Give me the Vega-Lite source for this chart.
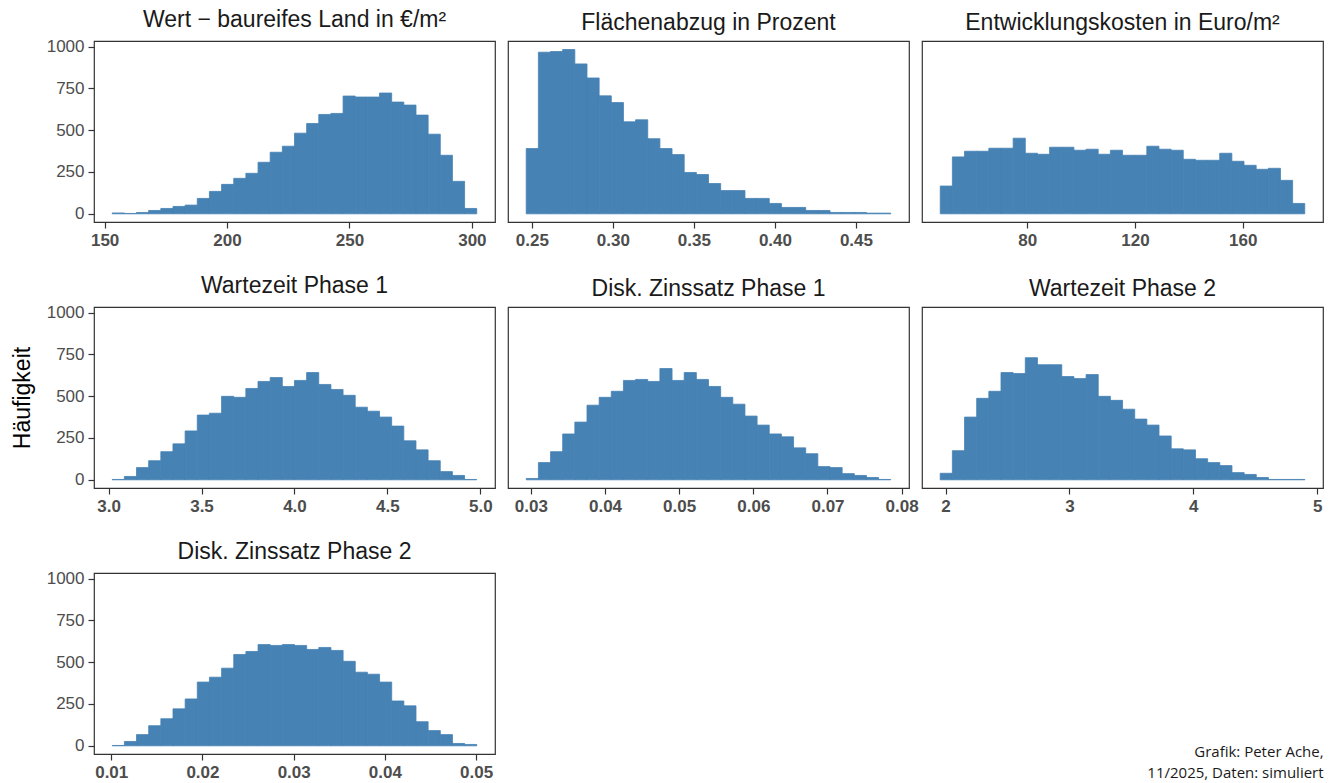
{
  "$schema": "https://vega.github.io/schema/vega-lite/v6.json",
  "background": "white",
  "padding": {"left": 10, "top": 7, "right": 0, "bottom": 0},
  "title": {"text": ["Grafik: Peter Ache,", "11/2025, Daten: simuliert"], "orient": "bottom", "anchor": "end", "font": "Open Sans", "fontSize": 15, "fontWeight": "normal", "color": "#1a1a1a", "lineHeight": 21, "offset": -36},
  "datasets": {
    "p1": [{"a":153.1,"b":158.06,"n":5},{"a":158.06,"b":163.03,"n":2},{"a":163.03,"b":167.99,"n":8},{"a":167.99,"b":172.95,"n":20},{"a":172.95,"b":177.92,"n":32},{"a":177.92,"b":182.88,"n":44},{"a":182.88,"b":187.84,"n":52},{"a":187.84,"b":192.8,"n":92},{"a":192.8,"b":197.77,"n":134},{"a":197.77,"b":202.73,"n":176},{"a":202.73,"b":207.69,"n":212},{"a":207.69,"b":212.66,"n":242},{"a":212.66,"b":217.62,"n":308},{"a":217.62,"b":222.58,"n":368},{"a":222.58,"b":227.55,"n":404},{"a":227.55,"b":232.51,"n":482},{"a":232.51,"b":237.47,"n":540},{"a":237.47,"b":242.43,"n":594},{"a":242.43,"b":247.4,"n":600},{"a":247.4,"b":252.36,"n":704},{"a":252.36,"b":257.32,"n":698},{"a":257.32,"b":262.29,"n":698},{"a":262.29,"b":267.25,"n":722},{"a":267.25,"b":272.21,"n":668},{"a":272.21,"b":277.18,"n":650},{"a":277.18,"b":282.14,"n":590},{"a":282.14,"b":287.1,"n":476},{"a":287.1,"b":292.06,"n":350},{"a":292.06,"b":297.03,"n":194},{"a":297.03,"b":301.99,"n":32}],
    "p2": [{"a":0.2465,"b":0.254,"n":390},{"a":0.254,"b":0.2615,"n":966},{"a":0.2615,"b":0.269,"n":970},{"a":0.269,"b":0.2765,"n":982},{"a":0.2765,"b":0.284,"n":896},{"a":0.284,"b":0.2915,"n":812},{"a":0.2915,"b":0.299,"n":705},{"a":0.299,"b":0.3065,"n":665},{"a":0.3065,"b":0.314,"n":550},{"a":0.314,"b":0.3215,"n":562},{"a":0.3215,"b":0.329,"n":449},{"a":0.329,"b":0.3365,"n":390},{"a":0.3365,"b":0.344,"n":354},{"a":0.344,"b":0.3515,"n":247},{"a":0.3515,"b":0.359,"n":235},{"a":0.359,"b":0.3665,"n":181},{"a":0.3665,"b":0.374,"n":139},{"a":0.374,"b":0.3815,"n":139},{"a":0.3815,"b":0.389,"n":92},{"a":0.389,"b":0.3965,"n":92},{"a":0.3965,"b":0.404,"n":62},{"a":0.404,"b":0.4115,"n":38},{"a":0.4115,"b":0.419,"n":38},{"a":0.419,"b":0.4265,"n":20},{"a":0.4265,"b":0.434,"n":20},{"a":0.434,"b":0.4415,"n":8},{"a":0.4415,"b":0.449,"n":8},{"a":0.449,"b":0.4565,"n":8},{"a":0.4565,"b":0.464,"n":4},{"a":0.464,"b":0.4715,"n":4}],
    "p3": [{"a":47.7,"b":52.21,"n":166},{"a":52.21,"b":56.72,"n":340},{"a":56.72,"b":61.23,"n":374},{"a":61.23,"b":65.74,"n":374},{"a":65.74,"b":70.25,"n":392},{"a":70.25,"b":74.76,"n":392},{"a":74.76,"b":79.27,"n":452},{"a":79.27,"b":83.78,"n":362},{"a":83.78,"b":88.29,"n":356},{"a":88.29,"b":92.8,"n":398},{"a":92.8,"b":97.31,"n":398},{"a":97.31,"b":101.82,"n":380},{"a":101.82,"b":106.33,"n":386},{"a":106.33,"b":110.84,"n":356},{"a":110.84,"b":115.35,"n":380},{"a":115.35,"b":119.86,"n":350},{"a":119.86,"b":124.37,"n":350},{"a":124.37,"b":128.88,"n":404},{"a":128.88,"b":133.39,"n":386},{"a":133.39,"b":137.9,"n":380},{"a":137.9,"b":142.41,"n":326},{"a":142.41,"b":146.92,"n":320},{"a":146.92,"b":151.43,"n":320},{"a":151.43,"b":155.94,"n":362},{"a":155.94,"b":160.45,"n":314},{"a":160.45,"b":164.96,"n":290},{"a":164.96,"b":169.47,"n":266},{"a":169.47,"b":173.98,"n":272},{"a":173.98,"b":178.49,"n":200},{"a":178.49,"b":183.0,"n":62}],
    "p4": [{"a":3.0196,"b":3.085,"n":2},{"a":3.085,"b":3.1503,"n":20},{"a":3.1503,"b":3.2157,"n":73},{"a":3.2157,"b":3.2811,"n":114},{"a":3.2811,"b":3.3464,"n":168},{"a":3.3464,"b":3.4118,"n":215},{"a":3.4118,"b":3.4772,"n":292},{"a":3.4772,"b":3.5425,"n":387},{"a":3.5425,"b":3.6079,"n":398},{"a":3.6079,"b":3.6733,"n":499},{"a":3.6733,"b":3.7386,"n":493},{"a":3.7386,"b":3.804,"n":546},{"a":3.804,"b":3.8694,"n":588},{"a":3.8694,"b":3.9347,"n":611},{"a":3.9347,"b":4.0001,"n":558},{"a":4.0001,"b":4.0655,"n":594},{"a":4.0655,"b":4.1308,"n":641},{"a":4.1308,"b":4.1962,"n":570},{"a":4.1962,"b":4.2616,"n":540},{"a":4.2616,"b":4.3269,"n":505},{"a":4.3269,"b":4.3923,"n":434},{"a":4.3923,"b":4.4577,"n":410},{"a":4.4577,"b":4.523,"n":375},{"a":4.523,"b":4.5884,"n":321},{"a":4.5884,"b":4.6538,"n":233},{"a":4.6538,"b":4.7191,"n":179},{"a":4.7191,"b":4.7845,"n":114},{"a":4.7845,"b":4.8499,"n":49},{"a":4.8499,"b":4.9152,"n":26},{"a":4.9152,"b":4.9806,"n":2}],
    "p5": [{"a":0.02938,"b":0.031018,"n":8},{"a":0.031018,"b":0.032657,"n":103},{"a":0.032657,"b":0.034295,"n":168},{"a":0.034295,"b":0.035933,"n":274},{"a":0.035933,"b":0.037572,"n":345},{"a":0.037572,"b":0.03921,"n":446},{"a":0.03921,"b":0.040848,"n":493},{"a":0.040848,"b":0.042486,"n":529},{"a":0.042486,"b":0.044125,"n":594},{"a":0.044125,"b":0.045763,"n":600},{"a":0.045763,"b":0.047401,"n":588},{"a":0.047401,"b":0.04904,"n":665},{"a":0.04904,"b":0.050678,"n":594},{"a":0.050678,"b":0.052316,"n":641},{"a":0.052316,"b":0.053955,"n":600},{"a":0.053955,"b":0.055593,"n":558},{"a":0.055593,"b":0.057231,"n":493},{"a":0.057231,"b":0.05887,"n":452},{"a":0.05887,"b":0.060508,"n":381},{"a":0.060508,"b":0.062146,"n":327},{"a":0.062146,"b":0.063784,"n":274},{"a":0.063784,"b":0.065423,"n":257},{"a":0.065423,"b":0.067061,"n":191},{"a":0.067061,"b":0.068699,"n":156},{"a":0.068699,"b":0.070338,"n":79},{"a":0.070338,"b":0.071976,"n":73},{"a":0.071976,"b":0.073614,"n":37},{"a":0.073614,"b":0.075253,"n":26},{"a":0.075253,"b":0.076891,"n":14},{"a":0.076891,"b":0.078529,"n":2}],
    "p6": [{"a":1.957,"b":2.0551,"n":39},{"a":2.0551,"b":2.1533,"n":174},{"a":2.1533,"b":2.2514,"n":375},{"a":2.2514,"b":2.3495,"n":487},{"a":2.3495,"b":2.4477,"n":529},{"a":2.4477,"b":2.5458,"n":641},{"a":2.5458,"b":2.6439,"n":635},{"a":2.6439,"b":2.742,"n":730},{"a":2.742,"b":2.8402,"n":688},{"a":2.8402,"b":2.9383,"n":688},{"a":2.9383,"b":3.0364,"n":617},{"a":3.0364,"b":3.1346,"n":605},{"a":3.1346,"b":3.2327,"n":629},{"a":3.2327,"b":3.3308,"n":499},{"a":3.3308,"b":3.429,"n":475},{"a":3.429,"b":3.5271,"n":422},{"a":3.5271,"b":3.6252,"n":363},{"a":3.6252,"b":3.7233,"n":327},{"a":3.7233,"b":3.8215,"n":262},{"a":3.8215,"b":3.9196,"n":185},{"a":3.9196,"b":4.0177,"n":179},{"a":4.0177,"b":4.1159,"n":126},{"a":4.1159,"b":4.214,"n":103},{"a":4.214,"b":4.3121,"n":85},{"a":4.3121,"b":4.4103,"n":43},{"a":4.4103,"b":4.5084,"n":32},{"a":4.5084,"b":4.6065,"n":14},{"a":4.6065,"b":4.7046,"n":2},{"a":4.7046,"b":4.8028,"n":2},{"a":4.8028,"b":4.9009,"n":2}],
    "p7": [{"a":0.01011,"b":0.011442,"n":2},{"a":0.011442,"b":0.012774,"n":26},{"a":0.012774,"b":0.014106,"n":67},{"a":0.014106,"b":0.015438,"n":120},{"a":0.015438,"b":0.01677,"n":162},{"a":0.01677,"b":0.018102,"n":221},{"a":0.018102,"b":0.019434,"n":280},{"a":0.019434,"b":0.020766,"n":381},{"a":0.020766,"b":0.022098,"n":410},{"a":0.022098,"b":0.02343,"n":464},{"a":0.02343,"b":0.024762,"n":546},{"a":0.024762,"b":0.026094,"n":564},{"a":0.026094,"b":0.027426,"n":605},{"a":0.027426,"b":0.028758,"n":600},{"a":0.028758,"b":0.03009,"n":605},{"a":0.03009,"b":0.031422,"n":600},{"a":0.031422,"b":0.032754,"n":576},{"a":0.032754,"b":0.034086,"n":588},{"a":0.034086,"b":0.035418,"n":570},{"a":0.035418,"b":0.03675,"n":505},{"a":0.03675,"b":0.038082,"n":440},{"a":0.038082,"b":0.039414,"n":428},{"a":0.039414,"b":0.040746,"n":381},{"a":0.040746,"b":0.042078,"n":268},{"a":0.042078,"b":0.04341,"n":239},{"a":0.04341,"b":0.044742,"n":144},{"a":0.044742,"b":0.046074,"n":91},{"a":0.046074,"b":0.047406,"n":67},{"a":0.047406,"b":0.048738,"n":14},{"a":0.048738,"b":0.05007,"n":8}]
  },
  "columns": 3,
  "bounds": "flush",
  "spacing": {"row": 85, "column": 13},
  "concat": [
    {"title": "Wert − baureifes Land in €/m²", "width": 401, "height": 181, "data": {"name": "p1"},
     "mark": {"type": "bar", "color": "#4682B4", "stroke": "#4682B4", "strokeWidth": 0.8},
     "encoding": {
       "x": {"field": "a", "type": "quantitative", "scale": {"domain": [145.66, 309.45], "nice": false, "zero": false}, "axis": {"values": [150, 200, 250, 300], "format": "d", "title": null}},
       "x2": {"field": "b"},
       "y": {"field": "n", "type": "quantitative", "scale": {"domain": [-49, 1033], "nice": false, "zero": false}, "axis": {"values": [0, 250, 500, 750, 1000], "format": "d", "title": null}},
       "y2": {"datum": 0}}},
    {"title": "Flächenabzug in Prozent", "width": 401, "height": 181, "data": {"name": "p2"},
     "mark": {"type": "bar", "color": "#4682B4", "stroke": "#4682B4", "strokeWidth": 0.8},
     "encoding": {
       "x": {"field": "a", "type": "quantitative", "scale": {"domain": [0.23525, 0.48275], "nice": false, "zero": false}, "axis": {"values": [0.25, 0.3, 0.35, 0.4, 0.45], "format": ".2f", "title": null}},
       "x2": {"field": "b"},
       "y": {"field": "n", "type": "quantitative", "scale": {"domain": [-49, 1033], "nice": false, "zero": false}, "axis": null},
       "y2": {"datum": 0}}},
    {"title": "Entwicklungskosten in Euro/m²", "width": 401, "height": 181, "data": {"name": "p3"},
     "mark": {"type": "bar", "color": "#4682B4", "stroke": "#4682B4", "strokeWidth": 0.8},
     "encoding": {
       "x": {"field": "a", "type": "quantitative", "scale": {"domain": [40.93, 189.77], "nice": false, "zero": false}, "axis": {"values": [80, 120, 160], "format": "d", "title": null}},
       "x2": {"field": "b"},
       "y": {"field": "n", "type": "quantitative", "scale": {"domain": [-49, 1033], "nice": false, "zero": false}, "axis": null},
       "y2": {"datum": 0}}},
    {"title": "Wartezeit Phase 1", "width": 401, "height": 181, "data": {"name": "p4"},
     "mark": {"type": "bar", "color": "#4682B4", "stroke": "#4682B4", "strokeWidth": 0.8},
     "encoding": {
       "x": {"field": "a", "type": "quantitative", "scale": {"domain": [2.9216, 5.079], "nice": false, "zero": false}, "axis": {"values": [3, 3.5, 4, 4.5, 5], "format": ".1f", "title": null}},
       "x2": {"field": "b"},
       "y": {"field": "n", "type": "quantitative", "scale": {"domain": [-49, 1033], "nice": false, "zero": false}, "axis": {"values": [0, 250, 500, 750, 1000], "format": "d", "title": "Häufigkeit", "titleFontSize": 23, "titleFontWeight": "normal", "titleColor": "#000000", "titleFont": "Liberation Sans", "titlePadding": 12}},
       "y2": {"datum": 0}}},
    {"title": "Disk. Zinssatz Phase 1", "width": 401, "height": 181, "data": {"name": "p5"},
     "mark": {"type": "bar", "color": "#4682B4", "stroke": "#4682B4", "strokeWidth": 0.8},
     "encoding": {
       "x": {"field": "a", "type": "quantitative", "scale": {"domain": [0.02692, 0.08099], "nice": false, "zero": false}, "axis": {"values": [0.03, 0.04, 0.05, 0.06, 0.07, 0.08], "format": ".2f", "title": null}},
       "x2": {"field": "b"},
       "y": {"field": "n", "type": "quantitative", "scale": {"domain": [-49, 1033], "nice": false, "zero": false}, "axis": null},
       "y2": {"datum": 0}}},
    {"title": "Wartezeit Phase 2", "width": 401, "height": 181, "data": {"name": "p6"},
     "mark": {"type": "bar", "color": "#4682B4", "stroke": "#4682B4", "strokeWidth": 0.8},
     "encoding": {
       "x": {"field": "a", "type": "quantitative", "scale": {"domain": [1.81, 5.047], "nice": false, "zero": false}, "axis": {"values": [2, 3, 4, 5], "format": "d", "title": null}},
       "x2": {"field": "b"},
       "y": {"field": "n", "type": "quantitative", "scale": {"domain": [-49, 1033], "nice": false, "zero": false}, "axis": null},
       "y2": {"datum": 0}}},
    {"title": "Disk. Zinssatz Phase 2", "width": 401, "height": 181, "data": {"name": "p7"},
     "mark": {"type": "bar", "color": "#4682B4", "stroke": "#4682B4", "strokeWidth": 0.8},
     "encoding": {
       "x": {"field": "a", "type": "quantitative", "scale": {"domain": [0.00811, 0.05207], "nice": false, "zero": false}, "axis": {"values": [0.01, 0.02, 0.03, 0.04, 0.05], "format": ".2f", "title": null}},
       "x2": {"field": "b"},
       "y": {"field": "n", "type": "quantitative", "scale": {"domain": [-49, 1033], "nice": false, "zero": false}, "axis": {"values": [0, 250, 500, 750, 1000], "format": "d", "title": null}},
       "y2": {"datum": 0}}}
  ],
  "config": {
    "view": {"stroke": "#333333", "strokeWidth": 1.2},
    "axis": {"grid": false, "domain": false, "tickColor": "#333333", "tickSize": 6, "tickWidth": 1.2, "labelColor": "#4d4d4d", "labelFontSize": 17, "labelFont": "Liberation Sans", "labelPadding": 4, "labelFlush": false, "labelOverlap": false, "labelBound": false},
    "axisX": {"labelFontWeight": "bold"},
    "title": {"font": "Liberation Sans", "fontSize": 23, "fontWeight": "normal", "color": "#1a1a1a", "anchor": "middle", "offset": 6}
  }
}
